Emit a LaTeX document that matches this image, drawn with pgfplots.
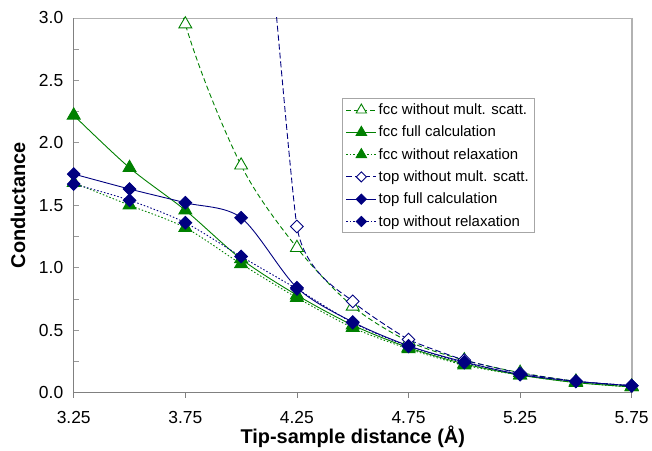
\documentclass[border=0pt]{standalone}
\usepackage{pgfplots}
\pgfplotsset{compat=1.18}
\usepackage{fontspec}
\setmainfont{Liberation Sans}
\definecolor{cgreen}{RGB}{0,128,0}
\definecolor{cnavy}{RGB}{0,0,128}
\begin{document}
\begin{tikzpicture}
\begin{axis}[
  scale only axis, width=560pt, height=376pt,
  xmin=3.25, xmax=5.75, ymin=0, ymax=3,
  axis x line*=bottom, axis y line*=left,
  axis line style={draw=black!50, line width=1pt},
  xtick={3.25,3.75,...,5.75},
  ytick={0,0.5,...,3}, minor ytick={0.25,0.75,...,2.75},
  x tick style={draw=black!50, line width=0.8pt}, y tick style={draw=black!40, line width=0.8pt},
  xtick pos=bottom, ytick pos=left,
  xtick align=outside, ytick align=inside,
  major tick length=5pt, minor tick length=5pt,
  /pgf/number format/assume math mode=true,
  xticklabel style={/pgf/number format/fixed, /pgf/number format/fixed zerofill, /pgf/number format/precision=2, yshift=-10pt},
  yticklabel style={/pgf/number format/fixed, /pgf/number format/fixed zerofill, /pgf/number format/precision=1, xshift=-7pt},
  tick label style={font=\fontsize{17.5}{20}\selectfont},
  xlabel={\bfseries Tip-sample distance (Å)},
  ylabel={\bfseries Conductance},
  label style={font=\fontsize{20}{24}\selectfont},
  xlabel style={at={(axis description cs:0.5,-0.117)}, anchor=center},
  ylabel style={at={(axis description cs:-0.1,0.5)}, anchor=center},
  clip mode=individual,
  legend style={at={(0.480,0.785)}, anchor=north west, draw=black!35, line width=0.8pt,
    font=\fontsize{15}{18}\selectfont, inner xsep=4pt, inner ysep=3pt, row sep=6pt,
    legend cell align=left},
  legend image code/.code={\draw[#1, mark repeat=2, mark phase=2, every mark/.append style={scale=0.8}] plot coordinates {(0pt,0pt) (15pt,0pt) (30pt,0pt)};},
  every axis plot/.append style={line width=0.9pt},
]
\coordinate (o) at (rel axis cs:0,0);
\draw[black!30, line width=0.8pt] (rel axis cs:0,1) -- (rel axis cs:1,1);
\draw[black!30, line width=1.8pt] (rel axis cs:1,1) -- (rel axis cs:1,0);

% fcc without mult. scatt.
\addplot[forget plot, cgreen, dash pattern=on 5pt off 3pt, smooth, tension=0.5, mark=none] coordinates {
(3.5,4.8) (3.75,2.95) (4.0,1.82) (4.25,1.16) (4.5,0.69) (4.75,0.41) (5.0,0.26) (5.25,0.16) (5.5,0.09) (5.75,0.05)};
\addplot[forget plot, cgreen, only marks, mark=triangle*, mark size=7.5pt, mark options={solid, fill=white}] coordinates {
(3.75,2.95) (4.0,1.82) (4.25,1.16) (4.5,0.69) (4.75,0.41) (5.0,0.26) (5.25,0.16) (5.5,0.09) (5.75,0.05)};
\addlegendimage{cgreen, line width=0.9pt, dash pattern=on 5pt off 3pt, mark=triangle*, mark size=7.5pt, mark options={solid, fill=white}}
\addlegendentry{fcc without mult. scatt.}
% fcc full
\addplot[cgreen, smooth, tension=0.5, mark=triangle*, mark size=7.5pt, mark options={solid, fill=cgreen}] coordinates {
(3.25,2.22) (3.5,1.80) (3.75,1.46) (4.0,1.07) (4.25,0.78) (4.5,0.54) (4.75,0.36) (5.0,0.23) (5.25,0.14) (5.5,0.08) (5.75,0.045)};
\addlegendentry{fcc full calculation}
% fcc without relaxation
\addplot[cgreen, smooth, tension=0.5, dash pattern=on 1.5pt off 2pt, mark=triangle*, mark size=7.5pt, mark options={solid, fill=cgreen}] coordinates {
(3.25,1.68) (3.5,1.50) (3.75,1.32) (4.0,1.03) (4.25,0.76) (4.5,0.52) (4.75,0.35) (5.0,0.22) (5.25,0.14) (5.5,0.08) (5.75,0.045)};
\addlegendentry{fcc without relaxation}
% top without mult. scatt.
\addplot[forget plot, cnavy, dash pattern=on 6pt off 3pt, smooth, tension=0.25, mark=none] coordinates {
(4.0,6.3) (4.25,1.33) (4.5,0.73) (4.75,0.425) (5.0,0.26) (5.25,0.155) (5.5,0.09) (5.75,0.055)};
\addplot[forget plot, cnavy, only marks, mark=square*, mark size=4.5pt, mark options={solid, fill=white, rotate=45}] coordinates {
(4.25,1.33) (4.5,0.73) (4.75,0.425) (5.0,0.26) (5.25,0.155) (5.5,0.09) (5.75,0.055)};
\addlegendimage{cnavy, line width=0.9pt, dash pattern=on 6pt off 3pt, mark=square*, mark size=4.5pt, mark options={solid, fill=white, rotate=45}}
\addlegendentry{top without mult. scatt.}
% top full
\addplot[cnavy, smooth, tension=0.5, mark=square*, mark size=4.5pt, mark options={solid, fill=cnavy, rotate=45}] coordinates {
(3.25,1.75) (3.5,1.63) (3.75,1.52) (4.0,1.40) (4.25,0.84) (4.5,0.565) (4.75,0.375) (5.0,0.245) (5.25,0.145) (5.5,0.09) (5.75,0.055)};
\addlegendentry{top full calculation}
% top without relaxation
\addplot[cnavy, smooth, tension=0.5, dash pattern=on 1.5pt off 2pt, mark=square*, mark size=4.5pt, mark options={solid, fill=cnavy, rotate=45}] coordinates {
(3.25,1.67) (3.5,1.54) (3.75,1.36) (4.0,1.09) (4.25,0.83) (4.5,0.56) (4.75,0.37) (5.0,0.24) (5.25,0.145) (5.5,0.09) (5.75,0.055)};
\addlegendentry{top without relaxation}
\end{axis}
\path (o) ++(-74pt,-55pt) rectangle ++(652pt,449pt);
\end{tikzpicture}
\end{document}
